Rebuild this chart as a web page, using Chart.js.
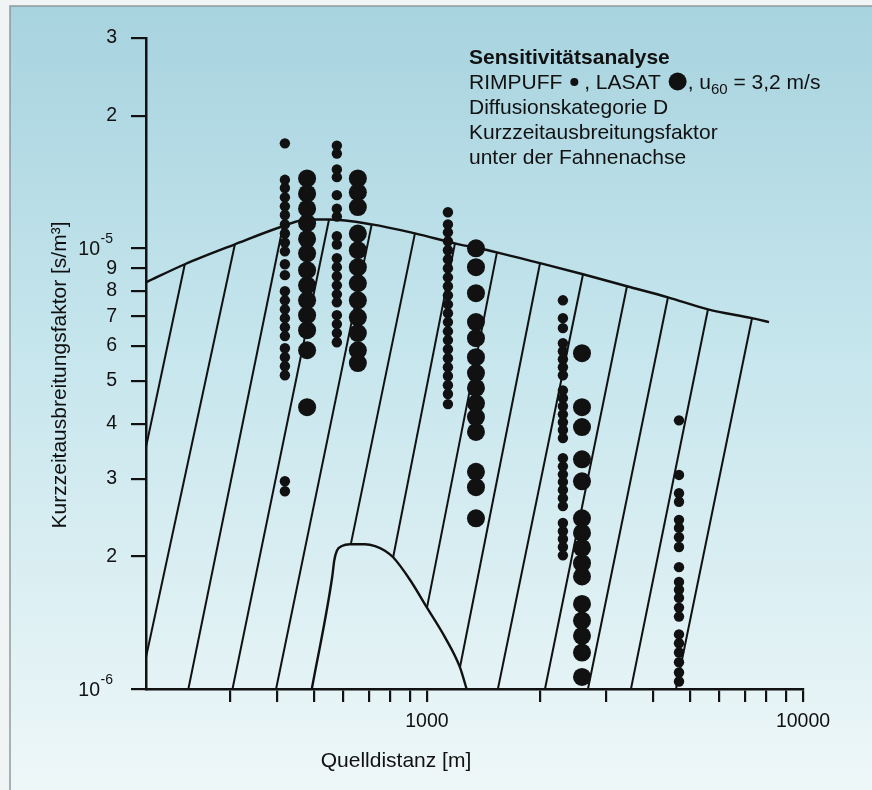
<!DOCTYPE html>
<html>
<head>
<meta charset="utf-8">
<script src="https://cdn.jsdelivr.net/npm/chart.js@4.4.0/dist/chart.umd.min.js"></script>
<style>
  html, body { margin: 0; padding: 0; background: #f2f5f5; }
  #wrap { position: absolute; left: 0; top: 0; width: 872px; height: 790px; }
  canvas { display: block; }
</style>
</head>
<body>
<div id="wrap"><canvas id="myChart" width="872" height="790"></canvas></div>
<script>
// Quelldistanz [m] der Rechenpunkte
var rimpuffX = [419, 576, 1137, 2299, 4680];
var lasatX = [480, 655, 1350, 2584];

// Kurzzeitausbreitungsfaktor in 1e-6 s/m3 (RIMPUFF, kleine Punkte)
var rimpuff1 = [17.3, 14.3, 13.7, 13.05, 12.45, 11.9, 11.33, 10.8, 10.3, 9.84, 9.2, 8.69, 7.99, 7.62, 7.27, 6.94, 6.62, 6.32, 5.93, 5.66, 5.4, 5.15, 2.96, 2.81];
var rimpuff2 = [17.1, 16.4, 15.1, 14.5, 13.2, 12.3, 11.8, 10.65, 10.2, 9.49, 9.06, 8.64, 8.24, 7.86, 7.54, 7.05, 6.73, 6.42, 6.12];
var rimpuff3 = [12.07, 11.33, 10.87, 10.37, 9.9, 9.44, 9.01, 8.59, 8.2, 7.82, 7.46, 7.12, 6.8, 6.48, 6.19, 5.9, 5.63, 5.37, 5.13, 4.89, 4.67, 4.43];
var rimpuff4 = [7.62, 6.94, 6.59, 6.09, 5.84, 5.6, 5.37, 5.15, 4.76, 4.57, 4.38, 4.2, 4.03, 3.87, 3.71, 3.34, 3.2, 3.07, 2.95, 2.83, 2.71, 2.6, 2.38, 2.28, 2.19, 2.1, 2.01];
var rimpuff5 = [4.07, 3.06, 2.78, 2.66, 2.42, 2.32, 2.21, 2.1, 1.89, 1.75, 1.68, 1.61, 1.53, 1.46, 1.33, 1.27, 1.21, 1.15, 1.09, 1.04];

// LASAT, grosse Punkte
var lasat1 = [14.4, 13.3, 12.3, 11.4, 10.5, 9.74, 8.92, 8.24, 7.62, 7.05, 6.52, 5.87, 4.36];
var lasat2 = [14.4, 13.4, 12.4, 10.8, 9.9, 9.06, 8.33, 7.62, 6.97, 6.42, 5.87, 5.49];
var lasat3 = [10.0, 9.06, 7.91, 6.8, 6.25, 5.66, 5.21, 4.82, 4.45, 4.14, 3.83, 3.11, 2.87, 2.44];
var lasat4 = [5.78, 4.36, 3.93, 3.32, 2.96, 2.44, 2.26, 2.09, 1.93, 1.8, 1.56, 1.43, 1.32, 1.21, 1.065];

// obere Einhuellende
var envX = [179, 227, 308.5, 414, 480, 549, 713, 929, 1187, 1535, 1998, 2600, 3403, 4375, 5589, 7317, 8122];
var envY = [8.37, 9.2, 10.21, 11.22, 11.62, 11.62, 11.33, 10.81, 10.26, 9.79, 9.25, 8.73, 8.2, 7.74, 7.27, 6.94, 6.8];

// Huegel unten
var hillX = [494, 560, 567, 576, 594, 624, 684, 728, 773, 813, 901, 1000, 1117, 1224, 1275];
var hillY = [1.0, 1.8, 1.96, 2.06, 2.11, 2.13, 2.13, 2.11, 2.06, 1.99, 1.77, 1.53, 1.31, 1.12, 1.0];

// schraege Geraden: Anfang an der Einhuellenden, Ende unten
var lineTopX = [227, 308.5, 414, 549, 713, 929, 1187, 1535, 1998, 2600, 3403, 4375, 5589, 7317];
var lineTopY = [9.2, 10.21, 11.22, 11.62, 11.33, 10.81, 10.26, 9.79, 9.25, 8.73, 8.2, 7.74, 7.27, 6.94];
var lineEndX = [179, 179, 232, 304, 397, 628, 813, 1000, 1224, 1544, 2060, 2680, 3487, 4595];
var lineEndY = [3.54, 1.18, 1.0, 1.0, 1.0, 2.14, 1.99, 1.53, 1.12, 1.0, 1.0, 1.0, 1.0, 1.0];

// Achsen
var xTicks = [300, 400, 500, 600, 700, 800, 900, 1000, 2000, 3000, 4000, 5000, 6000, 7000, 8000, 9000, 10000];
var xLabels = ['1000', '10000'];
var yTicks = [1, 2, 3, 4, 5, 6, 7, 8, 9, 10, 20, 30];

var FONT = '"Liberation Sans", Arial, Helvetica, sans-serif';
var INK = '#111111';

function column(x, ys) {
  return ys.map(function (y) { return {x: x, y: y}; });
}

var datasets = [];
[rimpuff1, rimpuff2, rimpuff3, rimpuff4, rimpuff5].forEach(function (ys, i) {
  datasets.push({
    label: 'RIMPUFF', data: column(rimpuffX[i], ys),
    pointRadius: 5.2, pointBackgroundColor: INK, pointBorderWidth: 0,
    clip: false, order: 0
  });
});
[lasat1, lasat2, lasat3, lasat4].forEach(function (ys, i) {
  datasets.push({
    label: 'LASAT', data: column(lasatX[i], ys),
    pointRadius: 9, pointBackgroundColor: INK, pointBorderWidth: 0,
    clip: false, order: 0
  });
});

datasets.push({
  data: envX.map(function (x, i) { return {x: x, y: envY[i]}; }),
  showLine: true, pointRadius: 0, borderColor: INK, borderWidth: 2.4,
  cubicInterpolationMode: 'monotone', order: 1
});
datasets.push({
  data: hillX.map(function (x, i) { return {x: x, y: hillY[i]}; }),
  showLine: true, pointRadius: 0, borderColor: INK, borderWidth: 2.4,
  cubicInterpolationMode: 'monotone', order: 1
});
for (var i = 0; i < lineTopX.length; i++) {
  datasets.push({
    data: [{x: lineTopX[i], y: lineTopY[i]}, {x: lineEndX[i], y: lineEndY[i]}],
    showLine: true, pointRadius: 0, borderColor: INK, borderWidth: 2, order: 2
  });
}

var paper = {
  id: 'paper',
  beforeDraw: function (chart) {
    var ctx = chart.ctx;
    ctx.save();
    ctx.fillStyle = '#f1f4f4';
    ctx.fillRect(0, 0, chart.width, chart.height);
    var g = ctx.createLinearGradient(0, 6, 0, chart.height);
    g.addColorStop(0, '#a7d3df');
    g.addColorStop(0.45, '#c7e6ed');
    g.addColorStop(1, '#eef7f8');
    ctx.fillStyle = g;
    ctx.fillRect(10, 6, chart.width - 10, chart.height - 6);
    ctx.strokeStyle = '#8e9a9c';
    ctx.lineWidth = 1.5;
    ctx.beginPath();
    ctx.moveTo(10, chart.height);
    ctx.lineTo(10, 6);
    ctx.lineTo(chart.width, 6);
    ctx.stroke();
    ctx.restore();
  },
  afterDraw: function (chart) {
    var ctx = chart.ctx;
    var ys = chart.scales.y;
    ctx.save();
    ctx.fillStyle = INK;
    ctx.textBaseline = 'alphabetic';

    // Zehnerpotenzen an der y-Achse
    [[10, '-5'], [1, '-6']].forEach(function (p) {
      var py = ys.getPixelForValue(p[0]);
      ctx.font = '19.5px ' + FONT;
      ctx.textAlign = 'right';
      ctx.fillText('10', 100, py + 7);
      ctx.font = '14px ' + FONT;
      ctx.textAlign = 'left';
      ctx.fillText(p[1], 100.5, py - 5);
    });

    // Achsentitel
    ctx.font = '21px ' + FONT;
    ctx.textAlign = 'center';
    ctx.fillText('Quelldistanz [m]', 396, 767);
    ctx.save();
    ctx.translate(66, 375);
    ctx.rotate(-Math.PI / 2);
    ctx.fillText('Kurzzeitausbreitungsfaktor [s/m\u00b3]', 0, 0);
    ctx.restore();

    // Beschriftung oben rechts
    var x0 = 469;
    ctx.textAlign = 'left';
    ctx.font = 'bold 21px ' + FONT;
    ctx.fillText('Sensitivit\u00e4tsanalyse', x0, 64);
    ctx.font = '21px ' + FONT;
    var x = x0, by = 89;
    ctx.fillText('RIMPUFF', x, by);
    x += ctx.measureText('RIMPUFF').width + 8;
    ctx.beginPath(); ctx.arc(x + 4, by - 7, 4, 0, Math.PI * 2); ctx.fill();
    x += 8;
    ctx.fillText(' , LASAT ', x, by);
    x += ctx.measureText(' , LASAT ').width + 2;
    ctx.beginPath(); ctx.arc(x + 9, by - 7.5, 9, 0, Math.PI * 2); ctx.fill();
    x += 19;
    ctx.fillText(', u', x, by);
    x += ctx.measureText(', u').width;
    ctx.font = '15px ' + FONT;
    ctx.fillText('60', x, by + 5);
    x += ctx.measureText('60').width;
    ctx.font = '21px ' + FONT;
    ctx.fillText(' = 3,2 m/s', x, by);
    ctx.fillText('Diffusionskategorie D', x0, 114);
    ctx.fillText('Kurzzeitausbreitungsfaktor', x0, 139);
    ctx.fillText('unter der Fahnenachse', x0, 164);
    ctx.restore();
  }
};

new Chart(document.getElementById('myChart'), {
  type: 'scatter',
  data: {datasets: datasets},
  options: {
    responsive: false,
    animation: false,
    devicePixelRatio: 1,
    events: [],
    layout: {padding: {left: 0, right: 69, top: 38, bottom: 0}},
    plugins: {legend: {display: false}, tooltip: {enabled: false}},
    scales: {
      x: {
        type: 'logarithmic', min: 179, max: 10000,
        afterBuildTicks: function (scale) {
          scale.ticks = xTicks.map(function (v) { return {value: v}; });
        },
        afterFit: function (scale) { scale.height = 101; },
        grid: {drawOnChartArea: false, drawTicks: true, tickLength: 13, color: INK, lineWidth: 2.2},
        border: {display: true, color: INK, width: 2.5},
        ticks: {
          autoSkip: false, maxRotation: 0, padding: 8, color: INK,
          font: {family: FONT, size: 19.5},
          callback: function (v) {
            return xLabels.indexOf(String(v)) >= 0 ? String(v) : '';
          }
        }
      },
      y: {
        type: 'logarithmic', min: 1, max: 30,
        afterBuildTicks: function (scale) {
          scale.ticks = yTicks.map(function (v) { return {value: v}; });
        },
        afterFit: function (scale) { scale.width = 146; },
        grid: {drawOnChartArea: false, drawTicks: true, tickLength: 15, color: INK, lineWidth: 2.2},
        border: {display: true, color: INK, width: 2.5},
        ticks: {
          autoSkip: false, padding: 14, color: INK,
          font: {family: FONT, size: 19.5},
          callback: function (v) {
            if (v === 1 || v === 10) return '';
            return String(v >= 10 ? v / 10 : v);
          }
        }
      }
    }
  },
  plugins: [paper]
});
</script>
</body>
</html>
